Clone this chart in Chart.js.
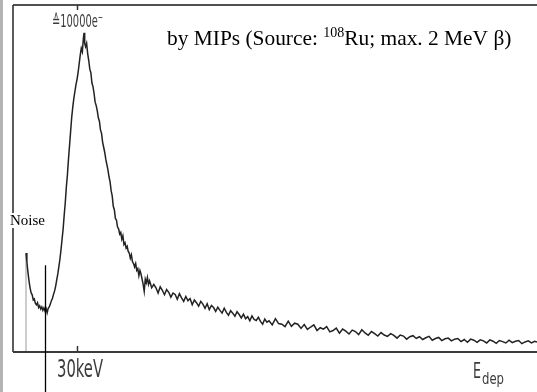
<!DOCTYPE html>
<html><head><meta charset="utf-8">
<script src="https://cdn.jsdelivr.net/npm/chart.js@4"></script>
<style>html,body{margin:0;padding:0;background:#fff;overflow:hidden}#wrap{width:537px;height:392px;position:relative}</style>
</head><body><div id="wrap"><canvas id="c" width="537" height="392"></canvas></div>
<script>
// Deposited energy (keV) and counts (arbitrary units, 100 = top of frame)
const energyKeV = [
  6.1, 6.1, 6.5, 7, 7.5, 8, 8.5, 9, 9.5, 10, 10.5,
  11, 11.5, 12, 12.5, 13, 13.5, 14, 14.5, 15, 15.5,
  16, 16.5, 17, 17.5, 18, 18.5, 19, 19.5, 20, 20.5,
  21, 21.5, 22, 22.5, 23, 23.5, 24, 24.5, 25, 25.5,
  26, 26.5, 27, 27.5, 28, 28.5, 29, 29.5, 30, 30.5,
  31, 31.5, 32, 32.5, 33, 33.3, 33.6, 34, 34.5, 35,
  35.5, 36, 36.5, 37, 37.5, 38, 38.5, 39, 39.5, 40,
  40.5, 41, 41.5, 42, 42.5, 43, 43.5, 44, 44.5, 45,
  45.5, 46, 46.5, 47, 47.5, 48, 48.5, 49, 49.5, 50,
  50.5, 51, 51.5, 52, 52.5, 53, 53.5, 54, 54.5, 55,
  55.5, 56, 56.5, 57, 57.5, 58, 58.5, 59, 59.5, 60,
  60.5, 61, 61.5, 62, 62.5, 63, 63.5, 64, 65, 66,
  67, 68, 69, 70, 71, 72, 73, 74, 75, 76,
  77, 78, 79, 80, 81, 82, 83, 84, 85, 86,
  87, 88, 89, 90, 91, 92, 93, 94, 95, 96,
  97, 98, 99, 100, 101, 102, 103, 104, 105, 106,
  107, 108, 109, 110, 111, 112, 113, 114, 115, 116,
  117, 118, 119, 120, 121.5, 123, 124.5, 126, 127.5, 129,
  130.5, 132, 133.5, 135, 136.5, 138, 139.5, 141, 142.5, 144,
  145.5, 147, 148.5, 150, 151.5, 153, 154.5, 156, 157.5, 159,
  160.5, 162, 163.5, 165, 166.5, 168, 169.5, 171, 172.5, 174,
  175.5, 177, 178.5, 180, 181.5, 183, 184.5, 186, 187.5, 189,
  190.5, 192, 193.5, 195, 196.5, 198, 199.5, 201, 202.5, 204,
  205.5, 207, 208.5, 210, 211.5, 213, 214.5, 216, 217.5, 219,
  220.5, 222, 223.5, 225, 226.5, 228, 229.5, 231, 232.5, 234,
  235.5, 237, 238.5, 240, 241.5, 243, 244.5, 245.6
];
const counts = [
  0, 28.5, 26.0, 23.0, 20.5, 18.5, 17.0, 16.5, 15.0, 15.3, 14.0,
  13.6, 14.2, 12.8, 13.3, 12.4, 13.0, 12.0, 12.7, 11.8, 12.5,
  11.3, 12.6, 13.0, 13.8, 14.8, 15.5, 16.6, 17.6, 19.0, 20.8,
  22.5, 24.6, 26.8, 29.5, 32.5, 35.5, 39.5, 43.0, 47.5, 51.0,
  55.5, 59.5, 63.5, 67.5, 70.5, 73.0, 75.0, 77.0, 78.5, 80.5,
  83.0, 85.5, 87.5, 86.5, 90.5, 92.0, 89.0, 88.0, 89.0, 86.0,
  84.0, 81.5, 80.5, 77.5, 76.5, 74.5, 72.0, 71.0, 69.5, 67.5,
  66.5, 64.0, 63.0, 60.5, 59.0, 57.5, 55.5, 54.0, 52.5, 50.5,
  49.0, 46.5, 45.0, 42.0, 41.0, 38.5, 38.0, 36.0, 35.5, 34.0,
  34.5, 32.5, 33.5, 31.0, 31.5, 30.0, 30.5, 29.0, 28.5, 27.0,
  28.0, 26.0, 25.5, 24.5, 25.5, 23.5, 24.0, 22.0, 23.5, 22.5,
  21.0, 19.5, 17.5, 21.0, 20.0, 21.5, 19.5, 20.5, 18.5, 19.5,
  18.5, 17.0, 18.8, 17.8, 16.5, 18.0, 17.2, 15.8, 17.0, 16.6,
  15.2, 16.8, 15.6, 14.6, 16.0, 14.8, 15.4, 13.6, 15.0, 14.2,
  13.2, 14.6, 13.8, 12.6, 13.9, 12.2, 13.4, 12.8, 11.7, 12.9,
  12.0, 11.2, 12.6, 11.4, 10.6, 11.9, 11.2, 10.3, 11.6, 10.8,
  9.8, 10.9, 9.6, 10.2, 9.0, 10.4, 9.4, 9.1, 10.0, 8.8,
  8.0, 9.5, 8.6, 9.0, 7.8, 9.6, 8.2, 8.0, 7.3, 8.9,
  7.4, 8.3, 8.0, 6.8, 7.9, 6.5, 7.2, 7.8, 6.2, 7.0,
  6.6, 7.3, 5.8, 6.2, 6.9, 5.4, 6.6, 6.0, 5.2, 6.3,
  5.9, 5.0, 6.4, 5.5, 4.8, 5.9, 5.3, 4.6, 5.6, 4.9,
  4.5, 5.3, 4.8, 4.0, 4.9, 4.6, 3.7, 4.4, 4.7, 3.9,
  4.4, 3.6, 4.1, 4.5, 3.4, 3.9, 4.2, 3.3, 3.8, 4.0,
  3.2, 3.7, 3.9, 3.0, 3.6, 2.8, 3.7, 3.4, 2.8, 3.5,
  3.2, 2.6, 3.5, 3.1, 2.5, 3.3, 3.0, 2.6, 3.4, 2.7,
  3.1, 3.3, 2.4, 2.9, 3.2, 2.6, 3.1, 2.9
];
const xTickValues = [30];
const xTickLabels = ['30keV'];
const topTickValues = [30];
const peakLabel = '≙10000e⁻';
const noiseLabel = 'Noise';
const noiseCutKeV = 15;      // marker line position
const noiseCutTop = 25;      // marker line top (count units)
const titleParts = ['by MIPs (Source: ', '108', 'Ru; max. 2 MeV β)'];
const axisLabelMain = 'E';
const axisLabelSub = 'dep';

const points = energyKeV.map((e, i) => ({x: e, y: counts[i]}));

function fitText(ctx, txt, x, y, w, font, color) {
  ctx.font = font;
  const m = ctx.measureText(txt).width;
  ctx.save();
  ctx.translate(x, y);
  ctx.scale(w / m, 1);
  ctx.fillStyle = color;
  ctx.textBaseline = 'alphabetic';
  ctx.textAlign = 'left';
  ctx.fillText(txt, 0, 0);
  ctx.restore();
}

const decor = {
  id: 'decor',
  beforeDraw(chart) {
    const ctx = chart.ctx;
    ctx.save();
    ctx.fillStyle = '#fff';
    ctx.fillRect(0, 0, chart.width, chart.height);
    ctx.fillStyle = '#b4b4b4';
    ctx.fillRect(0, 0, 3, chart.height);
    ctx.restore();
  },
  afterDatasetsDraw(chart) {
    const ctx = chart.ctx, a = chart.chartArea;
    const xs = chart.scales.x, ys = chart.scales.y;
    ctx.save();
    ctx.strokeStyle = '#505050'; ctx.lineWidth = 2;
    ctx.beginPath(); ctx.moveTo(a.left, a.top); ctx.lineTo(a.right, a.top); ctx.stroke();
    ctx.strokeStyle = '#333'; ctx.lineWidth = 1.6;
    ctx.beginPath(); ctx.moveTo(a.left, a.top); ctx.lineTo(a.left, a.bottom); ctx.stroke();
    ctx.strokeStyle = '#3a3a3a'; ctx.lineWidth = 2;
    ctx.beginPath(); ctx.moveTo(a.left, a.bottom); ctx.lineTo(a.right, a.bottom); ctx.stroke();
    ctx.lineWidth = 1.5; ctx.strokeStyle = '#333';
    xTickValues.forEach(v => {
      const px = Math.round(xs.getPixelForValue(v)) + 0.5;
      ctx.beginPath(); ctx.moveTo(px, a.bottom); ctx.lineTo(px, a.bottom - 6); ctx.stroke();
    });
    topTickValues.forEach(v => {
      const px = Math.round(xs.getPixelForValue(v)) + 0.5;
      ctx.beginPath(); ctx.moveTo(px, a.top); ctx.lineTo(px, a.top + 5); ctx.stroke();
    });
    xTickValues.forEach((v, i) => {
      const px = xs.getPixelForValue(v);
      fitText(ctx, xTickLabels[i], px - 20, a.bottom + 25, 46, '25px "DejaVu Sans"', '#3c3c3c');
    });
    const pk = xs.getPixelForValue(topTickValues[0]);
    fitText(ctx, peakLabel, pk - 25, a.top + 22, 51, '18px "DejaVu Sans"', '#3c3c3c');
    fitText(ctx, axisLabelMain, 473, a.bottom + 26, 8, '22px "DejaVu Sans"', '#3c3c3c');
    fitText(ctx, axisLabelSub, 482, a.bottom + 32, 22, '15px "DejaVu Sans"', '#3c3c3c');
    const mx = Math.round(xs.getPixelForValue(noiseCutKeV)) + 0.5;
    ctx.strokeStyle = '#000'; ctx.lineWidth = 1.3;
    ctx.beginPath(); ctx.moveTo(mx, ys.getPixelForValue(noiseCutTop)); ctx.lineTo(mx, chart.height); ctx.stroke();
    ctx.font = '15px "Liberation Serif"';
    const nw = ctx.measureText(noiseLabel).width;
    ctx.fillStyle = '#fff';
    ctx.fillRect(10, 213, nw + 1, 15);
    ctx.fillStyle = '#000';
    ctx.fillText(noiseLabel, 10, 225);
    let x = 167; const base = 45;
    ctx.font = '21.4px "Liberation Serif"';
    ctx.fillText(titleParts[0], x, base); x += ctx.measureText(titleParts[0]).width;
    ctx.font = '14px "Liberation Serif"';
    ctx.fillText(titleParts[1], x, base - 8); x += ctx.measureText(titleParts[1]).width;
    ctx.font = '21.4px "Liberation Serif"';
    ctx.fillText(titleParts[2], x, base);
    ctx.restore();
  }
};

new Chart(document.getElementById('c'), {
  type: 'line',
  data: {
    datasets: [{
      data: points,
      borderColor: '#222',
      borderWidth: 1.5,
      pointRadius: 0,
      tension: 0,
      fill: false,
      segment: {
        borderColor: c => c.p0DataIndex === 0 ? '#9a9a9a' : undefined,
        borderWidth: c => c.p0DataIndex === 0 ? 1 : undefined
      }
    }]
  },
  options: {
    responsive: false,
    animation: false,
    devicePixelRatio: 1,
    layout: {padding: {left: 13, top: 5, right: 0, bottom: 40}},
    scales: {
      x: {type: 'linear', min: 0, max: 245.6, display: false},
      y: {min: 0, max: 100, display: false}
    },
    plugins: {legend: {display: false}, tooltip: {enabled: false}, title: {display: false}}
  },
  plugins: [decor]
});
</script>
</body></html>
